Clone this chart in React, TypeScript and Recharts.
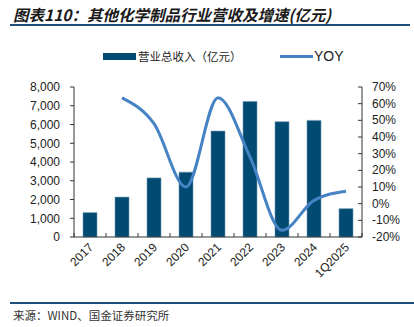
import { ComposedChart, Bar, Line, XAxis, YAxis } from 'recharts';

const categories = ['2017', '2018', '2019', '2020', '2021', '2022', '2023', '2024', '1Q2025'];
const revenue = [1300, 2130, 3150, 3460, 5650, 7230, 6150, 6220, 1510];
const yoy = [null, 63.5, 48, 10, 63.5, 28, -16, 2, 7.5];
const leftTicks = [0, 1000, 2000, 3000, 4000, 5000, 6000, 7000, 8000];
const rightTicks = [-20, -10, 0, 10, 20, 30, 40, 50, 60, 70];

const data = categories.map((c, i) => ({ name: c, revenue: revenue[i], yoy: yoy[i] }));

const BAR = '#014a72';
const LINE = '#4683c4';
const AXIS = '#333';
const FONT = '"Liberation Sans", Arial, sans-serif';
const CJK = '"Noto Sans CJK SC", sans-serif';

function XTick(props: any) {
    const { x, y, payload, index } = props;
    const half = payload.offset || 16;
    return (
        <g>
            <line x1={x - half} y1={y - 4} x2={x - half} y2={y} stroke={AXIS} />
            {index === categories.length - 1 && (
                <line x1={x + half} y1={y - 4} x2={x + half} y2={y} stroke={AXIS} />
            )}
            <text
                x={x + 4}
                y={y + 11}
                textAnchor="end"
                fontSize={12}
                fontFamily={FONT}
                fill="#222"
                transform={`rotate(-45, ${x + 4}, ${y + 11})`}
            >
                {payload.value}
            </text>
        </g>
    );
}

function RightTick(props: any) {
    const { x, y, payload } = props;
    return (
        <g>
            <line x1={x - 14} y1={y} x2={x - 10} y2={y} stroke={AXIS} />
            <text x={x} y={y} dy={4} textAnchor="start" fontSize={12} fontFamily={FONT} fill="#222">
                {payload.value + '%'}
            </text>
        </g>
    );
}

export default function App() {
    return (
        <div style={{ position: 'fixed', left: 0, top: 0, width: 414, height: 327, background: '#fff', overflow: 'hidden' }}>
            <div style={{
                position: 'absolute', left: 13, top: 4, fontFamily: CJK, fontSize: 15.5,
                fontStyle: 'italic', fontWeight: 700, color: '#1a1a1a', whiteSpace: 'nowrap', lineHeight: '20px'
            }}>
                图表110：其他化学制品行业营收及增速(亿元)
            </div>
            <div style={{ position: 'absolute', left: 10, top: 24, width: 400, height: 2, background: '#1f4e79' }} />

            <div style={{ position: 'absolute', left: 103, top: 53, width: 33, height: 7, background: BAR }} />
            <div style={{
                position: 'absolute', left: 138, top: 48, fontFamily: CJK, fontSize: 11.5,
                color: '#222', whiteSpace: 'nowrap', lineHeight: '16px'
            }}>
                营业总收入（亿元）
            </div>
            <div style={{ position: 'absolute', left: 280, top: 55, width: 33, height: 3, background: LINE }} />
            <div style={{
                position: 'absolute', left: 314, top: 47, fontFamily: FONT, fontSize: 14,
                color: '#222', whiteSpace: 'nowrap', lineHeight: '18px'
            }}>
                YOY
            </div>

            <div style={{ position: 'absolute', left: 0, top: 0 }}>
                <ComposedChart width={414} height={327} data={data} margin={{ top: 87, right: 0, bottom: 40, left: 0 }}>
                    <XAxis
                        dataKey="name"
                        xAxisId={0}
                        interval={0}
                        height={50}
                        tickLine={false}
                        tickSize={0}
                        tickMargin={0}
                        axisLine={{ stroke: AXIS }}
                        tick={<XTick />}
                    />
                    <YAxis
                        yAxisId="left"
                        orientation="left"
                        width={74}
                        domain={[0, 8000]}
                        ticks={leftTicks}
                        interval={0}
                        tickSize={4}
                        tickMargin={10}
                        tickFormatter={(v: number) => v.toLocaleString('en-US')}
                        tick={{ fontSize: 12, fontFamily: FONT, fill: '#222' }}
                        axisLine={{ stroke: AXIS }}
                        tickLine={{ stroke: AXIS }}
                    />
                    <YAxis
                        yAxisId="right"
                        orientation="right"
                        width={52}
                        domain={[-20, 70]}
                        ticks={rightTicks}
                        interval={0}
                        tickSize={0}
                        tickMargin={10}
                        tickLine={false}
                        axisLine={{ stroke: AXIS }}
                        tick={<RightTick />}
                    />
                    <Bar
                        yAxisId="left"
                        dataKey="revenue"
                        name="营业总收入（亿元）"
                        fill={BAR}
                        stroke="#6d98b4"
                        strokeWidth={0.6}
                        barSize={14}
                        isAnimationActive={false}
                    />
                    <Line
                        yAxisId="right"
                        dataKey="yoy"
                        name="YOY"
                        type="monotone"
                        stroke={LINE}
                        strokeWidth={3}
                        dot={false}
                        activeDot={false}
                        isAnimationActive={false}
                    />
                </ComposedChart>
            </div>

            <div style={{ position: 'absolute', left: 10, top: 302, width: 404, height: 2, background: '#1f4e79' }} />
            <div style={{
                position: 'absolute', left: 13, top: 307, fontFamily: CJK, fontSize: 11.5,
                color: '#333', whiteSpace: 'nowrap', lineHeight: '16px'
            }}>
                来源：WIND、国金证券研究所
            </div>
        </div>
    );
}
